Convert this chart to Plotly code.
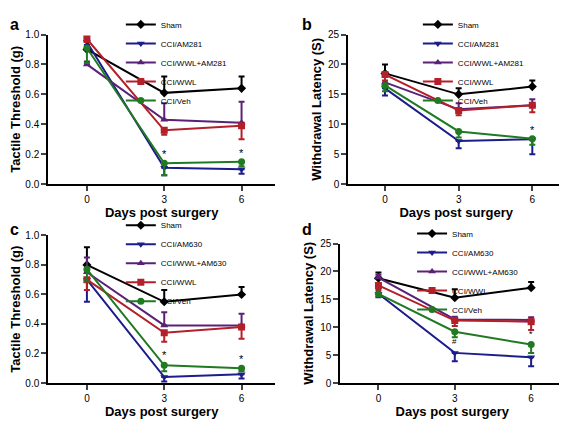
import plotly.graph_objects as go

days = [0, 3, 6]
groups_ab = ["Sham", "CCI/AM281", "CCI/WWL+AM281", "CCI/WWL", "CCI/Veh"]
groups_cd = ["Sham", "CCI/AM630", "CCI/WWL+AM630", "CCI/WWL", "CCI/Veh"]

# panel a: tactile threshold (g)
a_mean = [[0.90, 0.61, 0.64], [0.95, 0.11, 0.10], [0.80, 0.43, 0.41], [0.97, 0.36, 0.39], [0.91, 0.14, 0.15]]
a_err = [[0.02, 0.11, 0.08], [0.02, 0.05, 0.03], [0.02, 0.11, 0.14], [0.02, 0.03, 0.09], [0.10, 0.08, 0.03]]
# panel b: withdrawal latency (s)
b_mean = [[18.5, 15.0, 16.3], [16.0, 7.2, 7.5], [17.0, 12.5, 13.2], [18.3, 12.3, 13.2], [16.5, 8.8, 7.6]]
b_err = [[1.5, 1.0, 1.0], [1.2, 1.2, 2.5], [1.0, 1.0, 1.0], [1.0, 0.8, 1.2], [1.0, 1.0, 1.0]]
# panel c
c_mean = [[0.80, 0.55, 0.60], [0.70, 0.04, 0.06], [0.75, 0.39, 0.39], [0.70, 0.34, 0.38], [0.77, 0.12, 0.10]]
c_err = [[0.12, 0.08, 0.05], [0.15, 0.03, 0.03], [0.10, 0.09, 0.08], [0.07, 0.06, 0.08], [0.08, 0.04, 0.02]]
# panel d
d_mean = [[18.8, 15.3, 17.1], [16.0, 5.4, 4.6], [18.9, 11.4, 11.3], [17.5, 11.2, 11.0], [16.0, 9.2, 6.9]]
d_err = [[1.0, 1.5, 1.0], [0.6, 1.5, 1.6], [0.5, 0.5, 0.5], [0.8, 1.0, 1.5], [0.5, 1.0, 1.5]]

colors = ["#000000", "#1c1c8a", "#5a2277", "#b3202a", "#1f7a22"]
symbols = ["diamond", "triangle-down", "triangle-up", "square", "circle"]
err_up = [True, False, True, False, False]

panels = [
    ("a", groups_ab, a_mean, a_err, "x", "y", "legend", [0.071, 0.471], [0.585, 0.95], [0, 1.0], 0.2, "Tactile Threshold (g)"),
    ("b", groups_ab, b_mean, b_err, "x2", "y2", "legend2", [0.60, 0.981], [0.585, 0.95], [0, 25], 5, "Withdrawal Latency (S)"),
    ("c", groups_cd, c_mean, c_err, "x3", "y3", "legend3", [0.071, 0.471], [0.10, 0.46], [0, 1.0], 0.2, "Tactile Threshold (g)"),
    ("d", groups_cd, d_mean, d_err, "x4", "y4", "legend4", [0.586, 0.981], [0.10, 0.44], [0, 25], 5, "Withdrawal Latency (S)"),
]

fig = go.Figure()
layout = dict(width=567, height=422, margin=dict(l=0, r=0, t=0, b=0),
              paper_bgcolor="white", plot_bgcolor="white",
              font=dict(family="Liberation Sans, Arial", color="black"))

for letter, names, mean, err, xa, ya, lg, xd, yd, yr, dt, ytitle in panels:
    for i, name in enumerate(names):
        e = dict(type="data", symmetric=False, color=colors[i], thickness=2, width=3)
        if err_up[i]:
            e.update(array=err[i], arrayminus=[0] * 3)
        else:
            e.update(array=[0] * 3, arrayminus=err[i])
        fig.add_trace(go.Scatter(x=days, y=mean[i], name=name, xaxis=xa, yaxis=ya, legend=lg,
                                 mode="lines+markers", line=dict(color=colors[i], width=2),
                                 marker=dict(symbol=symbols[i], size=7, color=colors[i]),
                                 error_y=e))
    xk = "xaxis" + xa[1:]
    yk = "yaxis" + ya[1:]
    layout[xk] = dict(domain=xd, range=[-1.5, 7.3], tickvals=days, anchor=ya,
                      showline=True, linewidth=2, linecolor="black", ticks="outside", tickwidth=2,
                      showgrid=False, zeroline=False, tickfont=dict(size=10, family="Liberation Sans"),
                      title=dict(text="<b>Days post surgery</b>", font=dict(size=13), standoff=2))
    layout[yk] = dict(domain=yd, range=yr, dtick=dt, anchor=xa,
                      showline=True, linewidth=2, linecolor="black", ticks="outside", tickwidth=2,
                      showgrid=False, zeroline=False, tickfont=dict(size=10),
                      tickformat=".1f" if yr[1] == 1.0 else "d",
                      title=dict(text="<b>" + ytitle + "</b>", font=dict(size=13), standoff=4))
    layout[lg] = dict(x=xd[0] + 0.27 * (xd[1] - xd[0]) + 0.02, y=yd[1] + 0.06, xanchor="left", yanchor="top",
                      bgcolor="rgba(0,0,0,0)", font=dict(size=8), tracegroupgap=0, itemwidth=30)

layout["annotations"] = [
    dict(text="<b>a</b>", x=0.0, y=1.0, xref="paper", yref="paper", showarrow=False, xanchor="left", yanchor="top", font=dict(size=16)),
    dict(text="<b>b</b>", x=0.515, y=1.0, xref="paper", yref="paper", showarrow=False, xanchor="left", yanchor="top", font=dict(size=16)),
    dict(text="<b>c</b>", x=0.0, y=0.5, xref="paper", yref="paper", showarrow=False, xanchor="left", yanchor="top", font=dict(size=16)),
    dict(text="<b>d</b>", x=0.515, y=0.5, xref="paper", yref="paper", showarrow=False, xanchor="left", yanchor="top", font=dict(size=16)),
    dict(text="*", x=3, y=0.20, xref="x", yref="y", showarrow=False, font=dict(size=11)),
    dict(text="*", x=6, y=0.21, xref="x", yref="y", showarrow=False, font=dict(size=11)),
    dict(text="*", x=6, y=9.0, xref="x2", yref="y2", showarrow=False, font=dict(size=11)),
    dict(text="*", x=3, y=0.19, xref="x3", yref="y3", showarrow=False, font=dict(size=11)),
    dict(text="*", x=6, y=0.16, xref="x3", yref="y3", showarrow=False, font=dict(size=11)),
    dict(text="#", x=3, y=7.5, xref="x4", yref="y4", showarrow=False, font=dict(size=8)),
    dict(text="*", x=6, y=8.8, xref="x4", yref="y4", showarrow=False, font=dict(size=9)),
]
fig.update_layout(**layout)
fig.write_html("out.html")
